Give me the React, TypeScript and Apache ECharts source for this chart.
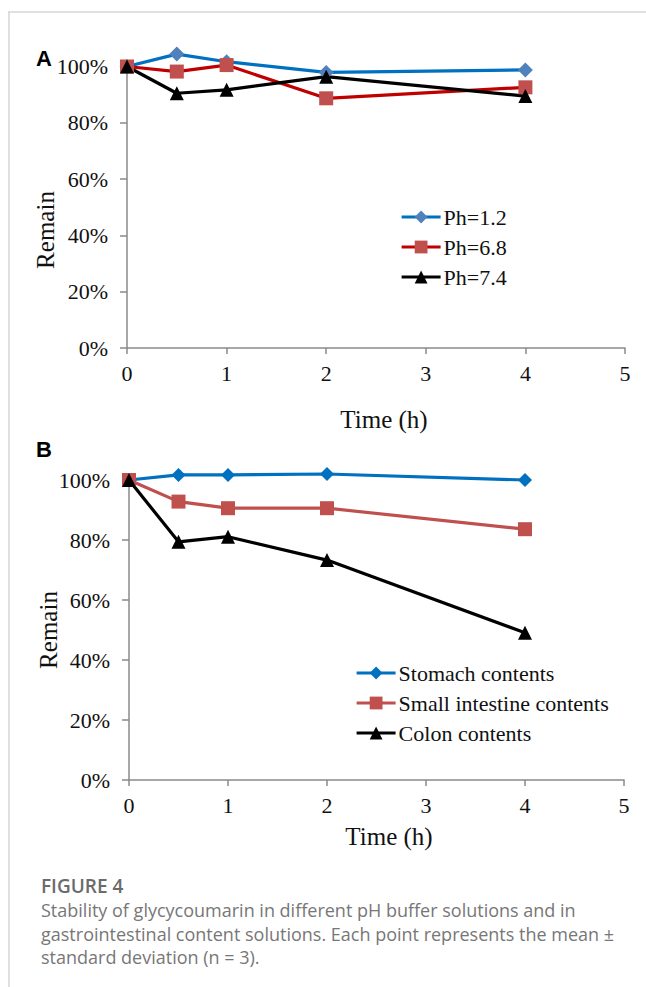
import React, { useEffect, useRef } from "react";
import * as echarts from "echarts";

const timePoints = [0, 0.5, 1, 2, 4];
const xTicks = [0, 1, 2, 3, 4, 5];

const namesA = ["Ph=1.2", "Ph=6.8", "Ph=7.4"];
const ph12 = [100, 104.4, 101.7, 97.9, 98.8];
const ph68 = [100, 98.2, 100.5, 88.7, 92.6];
const ph74 = [100, 90.5, 91.7, 96.4, 89.5];

const namesB = ["Stomach contents", "Small intestine contents", "Colon contents"];
const stomach = [100, 101.7, 101.7, 102.0, 100.0];
const smallIntestine = [100, 92.8, 90.6, 90.6, 83.6];
const colon = [100, 79.4, 81.1, 73.3, 49.1];

const captionTitle = "FIGURE 4";
const captionLines = [
  "Stability of glycycoumarin in different pH buffer solutions and in",
  "gastrointestinal content solutions. Each point represents the mean \u00b1",
  "standard deviation (n = 3).",
];

const SERIF = "'Liberation Serif', 'Times New Roman', serif";
const SANS = "'Liberation Sans', Arial, sans-serif";
const AXIS_COLOR = "#8a8a8a";

function pairs(xs: number[], ys: number[]) {
  return xs.map((x, i) => [x, ys[i]]);
}

function makeX(gridIndex: number) {
  return {
    gridIndex,
    type: "value",
    min: 0,
    max: 5,
    interval: 1,
    splitLine: { show: false },
    axisLine: { show: true, onZero: false, lineStyle: { color: AXIS_COLOR, width: 1.5 } },
    axisTick: { show: true, inside: false, length: 6, lineStyle: { color: AXIS_COLOR, width: 1.5 } },
    axisLabel: {
      color: "#111",
      fontFamily: SERIF,
      fontSize: 22,
      margin: 14,
      formatter: (v: number) => (xTicks.includes(v) ? String(v) : ""),
    },
  };
}

function makeY(gridIndex: number) {
  return {
    gridIndex,
    type: "value",
    min: 0,
    max: 100,
    interval: 20,
    splitLine: { show: false },
    axisLine: { show: true, lineStyle: { color: AXIS_COLOR, width: 1.5 } },
    axisTick: { show: true, inside: false, length: 7, lineStyle: { color: AXIS_COLOR, width: 1.5 } },
    axisLabel: {
      color: "#111",
      fontFamily: SERIF,
      fontSize: 22,
      margin: 19,
      formatter: "{value}%",
    },
  };
}

function lineSeries(
  name: string,
  idx: number,
  ys: number[],
  lineColor: string,
  markerColor: string,
  symbol: string,
  size: number
) {
  return {
    name,
    type: "line",
    xAxisIndex: idx,
    yAxisIndex: idx,
    data: pairs(timePoints, ys),
    symbol,
    symbolSize: size,
    showAllSymbol: true,
    clip: false,
    lineStyle: { color: lineColor, width: 3.2 },
    itemStyle: { color: markerColor, borderWidth: 0 },
    emphasis: { disabled: true },
    z: 3,
  };
}

export default function App() {
  const ref = useRef<HTMLDivElement>(null);

  useEffect(() => {
    if (!ref.current) return;
    const chart = echarts.init(ref.current, undefined, { renderer: "svg" });

    const legendCommon = {
      orient: "vertical",
      itemWidth: 39,
      itemHeight: 16,
      itemGap: 8,
      padding: 0,
      selectedMode: false,
      lineStyle: { width: 3.2 },
      textStyle: { fontFamily: SERIF, fontSize: 22, color: "#111", lineHeight: 22, padding: [0, 0, 0, -2] },
    };

    const option = {
      animation: false,
      backgroundColor: "#ffffff",
      grid: [
        { left: 127, top: 66.5, width: 498, height: 281.5 },
        { left: 129, top: 480, width: 495, height: 300 },
      ],
      xAxis: [makeX(0), makeX(1)],
      yAxis: [makeY(0), makeY(1)],
      legend: [
        { ...legendCommon, data: namesA, left: 400, top: 206 },
        { ...legendCommon, data: namesB, left: 355, top: 662 },
      ],
      series: [
        lineSeries(namesA[0], 0, ph12, "#0070C0", "#4F81BD", "diamond", 15),
        lineSeries(namesA[1], 0, ph68, "#C00000", "#C0504D", "rect", 14),
        lineSeries(namesA[2], 0, ph74, "#000000", "#000000", "triangle", 14),
        lineSeries(namesB[0], 1, stomach, "#0070C0", "#0070C0", "diamond", 14),
        lineSeries(namesB[1], 1, smallIntestine, "#C0504D", "#C0504D", "rect", 14),
        lineSeries(namesB[2], 1, colon, "#000000", "#000000", "triangle", 14),
      ],
      graphic: [
        { type: "line", shape: { x1: 8, y1: 12, x2: 646, y2: 12 }, style: { stroke: "#d6d6d6", lineWidth: 1.5 } },
        { type: "line", shape: { x1: 9, y1: 12, x2: 9, y2: 987 }, style: { stroke: "#d6d6d6", lineWidth: 1.5 } },
        {
          type: "text", x: 36, y: 58,
          style: { text: "A", font: `bold 22px ${SANS}`, fill: "#000", verticalAlign: "middle", align: "left" },
        },
        {
          type: "text", x: 36, y: 449,
          style: { text: "B", font: `bold 22px ${SANS}`, fill: "#000", verticalAlign: "middle", align: "left" },
        },
        {
          type: "text", x: 45, y: 230, rotation: Math.PI / 2,
          style: { text: "Remain", font: `25px ${SERIF}`, fill: "#111", align: "center", verticalAlign: "middle" },
        },
        {
          type: "text", x: 48, y: 630, rotation: Math.PI / 2,
          style: { text: "Remain", font: `25px ${SERIF}`, fill: "#111", align: "center", verticalAlign: "middle" },
        },
        {
          type: "text", x: 384, y: 419,
          style: { text: "Time (h)", font: `25px ${SERIF}`, fill: "#111", align: "center", verticalAlign: "middle" },
        },
        {
          type: "text", x: 389, y: 836,
          style: { text: "Time (h)", font: `25px ${SERIF}`, fill: "#111", align: "center", verticalAlign: "middle" },
        },
        {
          type: "text", x: 41, y: 886,
          style: { text: captionTitle, font: `600 19px 'Open Sans', sans-serif`, fill: "#6b6b6b", align: "left", verticalAlign: "middle" },
        },
        ...captionLines.map((t, i) => ({
          type: "text", x: 41, y: 910 + i * 23.5,
          style: { text: t, font: `18px 'Open Sans', sans-serif`, fill: "#777777", align: "left", verticalAlign: "middle" },
        })),
      ],
    };

    chart.setOption(option as any);
    return () => chart.dispose();
  }, []);

  return (
    <div
      ref={ref}
      style={{ position: "fixed", left: 0, top: 0, width: 646, height: 987, background: "#fff" }}
    />
  );
}
